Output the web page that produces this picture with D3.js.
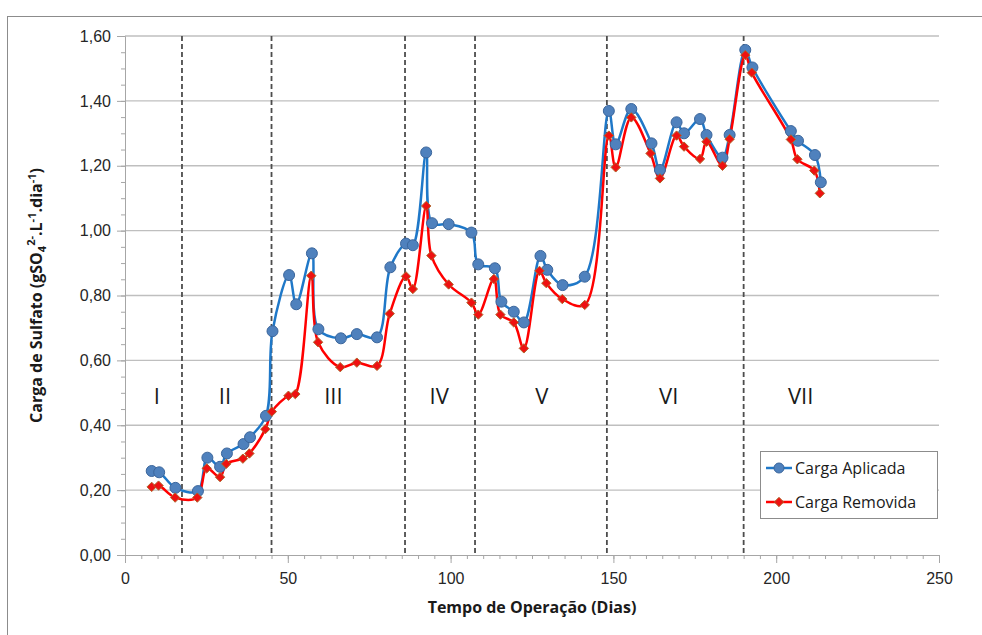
<!DOCTYPE html>
<html>
<head>
<meta charset="utf-8">
<script src="https://cdn.jsdelivr.net/npm/d3@7"></script>
<style>
  body { margin: 0; background: #fff; }
  svg { font-family: "Open Sans", "Liberation Sans", sans-serif; }
</style>
</head>
<body>
<div id="chart"></div>
<script>
// dias de operação e cargas (gSO4/L.dia)
var diasAplicada = [8.2, 10.5, 15.5, 22.4, 25.3, 29.2, 31.3, 36.4, 38.4, 43.3, 45.3, 50.4, 52.6, 57.4, 59.4, 66.3, 71.2, 77.4, 81.5, 86.3, 88.4, 92.5, 94.3, 99.4, 106.4, 108.5, 113.6, 115.6, 119.4, 122.5, 127.6, 129.7, 134.4, 141.2, 148.6, 150.7, 155.5, 161.7, 164.3, 169.4, 171.7, 176.6, 178.6, 183.5, 185.7, 190.5, 192.7, 204.5, 206.7, 211.9, 213.7];
var cargaAplicada = [0.259, 0.255, 0.207, 0.197, 0.300, 0.272, 0.313, 0.342, 0.363, 0.429, 0.690, 0.863, 0.773, 0.930, 0.696, 0.668, 0.681, 0.671, 0.887, 0.960, 0.955, 1.241, 1.023, 1.020, 0.994, 0.896, 0.884, 0.781, 0.750, 0.717, 0.922, 0.879, 0.832, 0.858, 1.369, 1.266, 1.375, 1.269, 1.187, 1.334, 1.300, 1.344, 1.295, 1.225, 1.295, 1.557, 1.503, 1.307, 1.277, 1.233, 1.149];

var diasRemovida = [8.2, 10.3, 15.4, 22.2, 25.1, 29.2, 31.1, 36.2, 38.2, 43.1, 45.1, 50.2, 52.3, 57.2, 59.3, 66.1, 71.2, 77.4, 81.3, 86.3, 88.4, 92.5, 94.1, 99.4, 106.4, 108.5, 113.3, 115.3, 119.4, 122.5, 127.3, 129.4, 134.3, 141.2, 148.6, 150.7, 155.5, 161.4, 164.3, 169.4, 171.7, 176.6, 178.6, 183.5, 185.7, 190.5, 192.5, 204.5, 206.5, 211.7, 213.4];
var cargaRemovida = [0.210, 0.214, 0.177, 0.177, 0.267, 0.240, 0.281, 0.297, 0.313, 0.388, 0.442, 0.491, 0.496, 0.861, 0.656, 0.579, 0.593, 0.583, 0.744, 0.859, 0.820, 1.076, 0.923, 0.834, 0.778, 0.741, 0.851, 0.741, 0.717, 0.637, 0.876, 0.838, 0.789, 0.771, 1.293, 1.195, 1.349, 1.238, 1.161, 1.293, 1.259, 1.221, 1.274, 1.200, 1.282, 1.541, 1.487, 1.281, 1.220, 1.185, 1.115];

// fases do reator
var divisoes = [17.5, 45, 86, 107.5, 148, 190];
var fases = ["I", "II", "III", "IV", "V", "VI", "VII"];
var posFases = [9.8, 30.7, 64, 96.5, 128, 167, 207.5];

var yTicks = [0, 0.2, 0.4, 0.6, 0.8, 1.0, 1.2, 1.4, 1.6];
var xTicks = [0, 50, 100, 150, 200, 250];

var W = 982, H = 635;
var margin = {left: 125, top: 36, right: 43, bottom: 80};
var width = W - margin.left - margin.right,
    height = H - margin.top - margin.bottom;

var svg = d3.select("#chart").append("svg")
  .attr("width", W).attr("height", H);

// moldura externa
svg.append("rect")
  .attr("x", 7.5).attr("y", 16.5)
  .attr("width", 1000).attr("height", 700)
  .attr("fill", "none").attr("stroke", "#8c8c8c").attr("stroke-width", 1);

var g = svg.append("g")
  .attr("transform", "translate(" + margin.left + "," + margin.top + ")");

var x = d3.scaleLinear().domain([0, 250]).range([0, width]);
var y = d3.scaleLinear().domain([0, 1.6]).range([height, 0]);

var fmt = function(d) { return d3.format(".2f")(d).replace(".", ","); };

// grade horizontal
g.append("g").selectAll("line")
  .data(yTicks.slice(1))
  .enter().append("line")
  .attr("x1", 0).attr("x2", width)
  .attr("y1", function(d) { return y(d); })
  .attr("y2", function(d) { return y(d); })
  .attr("stroke", "#bfbfbf").attr("stroke-width", 1.3);

// eixo Y
g.append("g")
  .call(d3.axisLeft(y).tickValues(yTicks).tickFormat(fmt).tickSize(8).tickPadding(6));
g.append("g")
  .call(d3.axisLeft(y).tickValues(d3.range(0, 1.6001, 0.05)).tickFormat("").tickSize(4))
  .call(function(s) { s.select(".domain").remove(); });

// eixo X
g.append("g")
  .attr("transform", "translate(0," + height + ")")
  .call(d3.axisBottom(x).tickValues(xTicks).tickSize(8).tickPadding(10));
g.append("g")
  .attr("transform", "translate(0," + height + ")")
  .call(d3.axisBottom(x).tickValues(d3.range(0, 251, 5)).tickFormat("").tickSize(4))
  .call(function(s) { s.select(".domain").remove(); });

g.selectAll(".domain, .tick line").attr("stroke", "#a6a6a6");
g.selectAll(".tick text").attr("font-size", 16).attr("fill", "#262626");

// divisões das fases
g.append("g").selectAll("line")
  .data(divisoes)
  .enter().append("line")
  .attr("x1", function(d) { return x(d); })
  .attr("x2", function(d) { return x(d); })
  .attr("y1", 0).attr("y2", height)
  .attr("stroke", "#4d4d4d").attr("stroke-width", 1.8)
  .attr("stroke-dasharray", "5,3");

g.append("g").selectAll("text")
  .data(fases)
  .enter().append("text")
  .attr("x", function(d, i) { return x(posFases[i]); })
  .attr("y", y(0.49))
  .attr("dy", "0.35em")
  .attr("text-anchor", "middle")
  .attr("font-size", 22)
  .attr("fill", "#1a1a1a")
  .text(function(d) { return d; });

// series
var aplicada = diasAplicada.map(function(d, i) { return {t: d, v: cargaAplicada[i]}; });
var removida = diasRemovida.map(function(d, i) { return {t: d, v: cargaRemovida[i]}; });

var line = d3.line()
  .x(function(d) { return x(d.t); })
  .y(function(d) { return y(d.v); })
  .curve(d3.curveCatmullRom.alpha(0.5));

var azul = "#1f78c8", vermelho = "#ff0000";

g.append("path").datum(aplicada)
  .attr("d", line).attr("fill", "none")
  .attr("stroke", azul).attr("stroke-width", 2.5);
g.append("path").datum(removida)
  .attr("d", line).attr("fill", "none")
  .attr("stroke", vermelho).attr("stroke-width", 2.5);

var diamond = d3.symbol().type(d3.symbolDiamond2).size(56);

g.append("g").selectAll("circle")
  .data(aplicada)
  .enter().append("circle")
  .attr("cx", function(d) { return x(d.t); })
  .attr("cy", function(d) { return y(d.v); })
  .attr("r", 5.5)
  .attr("fill", "#4f81bd").attr("stroke", "#3b669c").attr("stroke-width", 1);

g.append("g").selectAll("path")
  .data(removida)
  .enter().append("path")
  .attr("d", diamond)
  .attr("transform", function(d) { return "translate(" + x(d.t) + "," + y(d.v) + ")"; })
  .attr("fill", "#ee1111").attr("stroke", "#b0642a").attr("stroke-width", 1);

// titulos dos eixos
svg.append("text")
  .attr("x", margin.left + width / 2).attr("y", 613)
  .attr("text-anchor", "middle")
  .attr("font-size", 16).attr("font-weight", "bold").attr("fill", "#1a1a1a")
  .text("Tempo de Operação (Dias)");

var yt = svg.append("text")
  .attr("transform", "translate(42," + (margin.top + height / 2) + ") rotate(-90)")
  .attr("text-anchor", "middle")
  .attr("font-size", 16).attr("font-weight", "bold").attr("fill", "#1a1a1a");
yt.append("tspan").text("Carga de Sulfato (gSO");
yt.append("tspan").attr("font-size", 11).attr("dy", 4).text("4");
yt.append("tspan").attr("font-size", 11).attr("dy", -11).text("2-");
yt.append("tspan").attr("dy", 7).text(".L");
yt.append("tspan").attr("font-size", 11).attr("dy", -6).text("-1");
yt.append("tspan").attr("dy", 6).text(".dia");
yt.append("tspan").attr("font-size", 11).attr("dy", -6).text("-1");
yt.append("tspan").attr("dy", 6).text(")");

// legenda
var leg = svg.append("g").attr("transform", "translate(760,451)");
leg.append("rect")
  .attr("x", 0.5).attr("y", 0.5).attr("width", 177).attr("height", 67)
  .attr("fill", "#fff").attr("stroke", "#8c8c8c");

var itens = [
  {nome: "Carga Aplicada", cor: azul, tipo: "c"},
  {nome: "Carga Removida", cor: vermelho, tipo: "d"}
];
itens.forEach(function(it, i) {
  var yy = 17 + i * 34;
  leg.append("line").attr("x1", 6).attr("x2", 32).attr("y1", yy).attr("y2", yy)
    .attr("stroke", it.cor).attr("stroke-width", 2.5);
  if (it.tipo === "c") {
    leg.append("circle").attr("cx", 19).attr("cy", yy).attr("r", 5)
      .attr("fill", "#4f81bd").attr("stroke", "#3b669c");
  } else {
    leg.append("path").attr("d", diamond)
      .attr("transform", "translate(19," + yy + ")")
      .attr("fill", "#ee1111").attr("stroke", "#b0642a");
  }
  leg.append("text").attr("x", 35).attr("y", yy).attr("dy", "0.35em")
    .attr("font-size", 16).attr("fill", "#1a1a1a").text(it.nome);
});
</script>
</body>
</html>
